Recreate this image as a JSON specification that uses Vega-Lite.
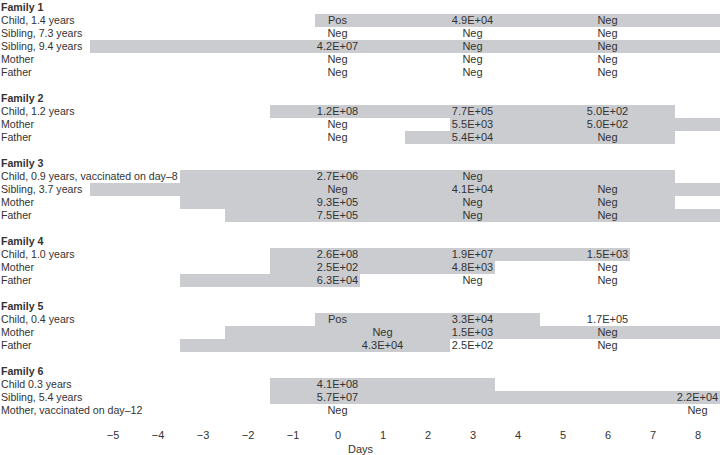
{
  "$schema": "https://vega.github.io/schema/vega-lite/v6.json",
  "width": 720,
  "height": 416,
  "autosize": "none",
  "padding": {"left": 0, "top": 1, "right": 0, "bottom": 38},
  "background": "white",
  "config": {
    "view": {"stroke": null},
    "font": "Liberation Sans",
    "text": {"font": "Liberation Sans", "fontSize": 11, "color": "#333333"}
  },
  "datasets": {
    "rows": [
      {"row": 0, "name": "Family 1", "header": true},
      {"row": 1, "name": "Child, 1.4 years", "header": false},
      {"row": 2, "name": "Sibling, 7.3 years", "header": false},
      {"row": 3, "name": "Sibling, 9.4 years", "header": false},
      {"row": 4, "name": "Mother", "header": false},
      {"row": 5, "name": "Father", "header": false},
      {"row": 7, "name": "Family 2", "header": true},
      {"row": 8, "name": "Child, 1.2 years", "header": false},
      {"row": 9, "name": "Mother", "header": false},
      {"row": 10, "name": "Father", "header": false},
      {"row": 12, "name": "Family 3", "header": true},
      {"row": 13, "name": "Child, 0.9 years, vaccinated on day–8", "header": false},
      {"row": 14, "name": "Sibling, 3.7 years", "header": false},
      {"row": 15, "name": "Mother", "header": false},
      {"row": 16, "name": "Father", "header": false},
      {"row": 18, "name": "Family 4", "header": true},
      {"row": 19, "name": "Child, 1.0 years", "header": false},
      {"row": 20, "name": "Mother", "header": false},
      {"row": 21, "name": "Father", "header": false},
      {"row": 23, "name": "Family 5", "header": true},
      {"row": 24, "name": "Child, 0.4 years", "header": false},
      {"row": 25, "name": "Mother", "header": false},
      {"row": 26, "name": "Father", "header": false},
      {"row": 28, "name": "Family 6", "header": true},
      {"row": 29, "name": "Child 0.3 years", "header": false},
      {"row": 30, "name": "Sibling, 5.4 years", "header": false},
      {"row": 31, "name": "Mother, vaccinated on day–12", "header": false}
    ],
    "bars": [
      {"row": 1, "start": -0.5, "end": 8.5},
      {"row": 3, "start": -5.5, "end": 8.5},
      {"row": 8, "start": -1.5, "end": 7.5},
      {"row": 9, "start": 2.5, "end": 8.5},
      {"row": 10, "start": 1.5, "end": 7.5},
      {"row": 13, "start": -3.5, "end": 7.5},
      {"row": 14, "start": -5.5, "end": 8.5},
      {"row": 15, "start": -3.5, "end": 7.5},
      {"row": 16, "start": -2.5, "end": 8.5},
      {"row": 19, "start": -1.5, "end": 6.5},
      {"row": 20, "start": -1.5, "end": 3.5},
      {"row": 21, "start": -3.5, "end": 0.5},
      {"row": 24, "start": -0.5, "end": 4.5},
      {"row": 25, "start": -2.5, "end": 8.5},
      {"row": 26, "start": -3.5, "end": 2.5},
      {"row": 29, "start": -1.5, "end": 3.5},
      {"row": 30, "start": -1.5, "end": 8.5}
    ],
    "vals": [
      {"row": 1, "day": 0, "value": "Pos"},
      {"row": 1, "day": 3, "value": "4.9E+04"},
      {"row": 1, "day": 6, "value": "Neg"},
      {"row": 2, "day": 0, "value": "Neg"},
      {"row": 2, "day": 3, "value": "Neg"},
      {"row": 2, "day": 6, "value": "Neg"},
      {"row": 3, "day": 0, "value": "4.2E+07"},
      {"row": 3, "day": 3, "value": "Neg"},
      {"row": 3, "day": 6, "value": "Neg"},
      {"row": 4, "day": 0, "value": "Neg"},
      {"row": 4, "day": 3, "value": "Neg"},
      {"row": 4, "day": 6, "value": "Neg"},
      {"row": 5, "day": 0, "value": "Neg"},
      {"row": 5, "day": 3, "value": "Neg"},
      {"row": 5, "day": 6, "value": "Neg"},
      {"row": 8, "day": 0, "value": "1.2E+08"},
      {"row": 8, "day": 3, "value": "7.7E+05"},
      {"row": 8, "day": 6, "value": "5.0E+02"},
      {"row": 9, "day": 0, "value": "Neg"},
      {"row": 9, "day": 3, "value": "5.5E+03"},
      {"row": 9, "day": 6, "value": "5.0E+02"},
      {"row": 10, "day": 0, "value": "Neg"},
      {"row": 10, "day": 3, "value": "5.4E+04"},
      {"row": 10, "day": 6, "value": "Neg"},
      {"row": 13, "day": 0, "value": "2.7E+06"},
      {"row": 13, "day": 3, "value": "Neg"},
      {"row": 14, "day": 0, "value": "Neg"},
      {"row": 14, "day": 3, "value": "4.1E+04"},
      {"row": 14, "day": 6, "value": "Neg"},
      {"row": 15, "day": 0, "value": "9.3E+05"},
      {"row": 15, "day": 3, "value": "Neg"},
      {"row": 15, "day": 6, "value": "Neg"},
      {"row": 16, "day": 0, "value": "7.5E+05"},
      {"row": 16, "day": 3, "value": "Neg"},
      {"row": 16, "day": 6, "value": "Neg"},
      {"row": 19, "day": 0, "value": "2.6E+08"},
      {"row": 19, "day": 3, "value": "1.9E+07"},
      {"row": 19, "day": 6, "value": "1.5E+03"},
      {"row": 20, "day": 0, "value": "2.5E+02"},
      {"row": 20, "day": 3, "value": "4.8E+03"},
      {"row": 20, "day": 6, "value": "Neg"},
      {"row": 21, "day": 0, "value": "6.3E+04"},
      {"row": 21, "day": 3, "value": "Neg"},
      {"row": 21, "day": 6, "value": "Neg"},
      {"row": 24, "day": 0, "value": "Pos"},
      {"row": 24, "day": 3, "value": "3.3E+04"},
      {"row": 24, "day": 6, "value": "1.7E+05"},
      {"row": 25, "day": 1, "value": "Neg"},
      {"row": 25, "day": 3, "value": "1.5E+03"},
      {"row": 25, "day": 6, "value": "Neg"},
      {"row": 26, "day": 1, "value": "4.3E+04"},
      {"row": 26, "day": 3, "value": "2.5E+02"},
      {"row": 26, "day": 6, "value": "Neg"},
      {"row": 29, "day": 0, "value": "4.1E+08"},
      {"row": 30, "day": 0, "value": "5.7E+07"},
      {"row": 30, "day": 8, "value": "2.2E+04"},
      {"row": 31, "day": 0, "value": "Neg"},
      {"row": 31, "day": 8, "value": "Neg"}
    ]
  },
  "layer": [
    {
      "data": {"name": "bars"},
      "mark": {"type": "bar", "color": "#cbcccf", "cornerRadius": 0},
      "encoding": {
        "x": {
          "field": "start", "type": "quantitative",
          "scale": {"domain": [-7.5, 8.5], "nice": false, "zero": false},
          "axis": {
            "values": [-5, -4, -3, -2, -1, 0, 1, 2, 3, 4, 5, 6, 7, 8],
            "labelExpr": "replace(datum.label, '-', '–')",
            "domain": false, "ticks": false, "grid": false,
            "labelFont": "Liberation Sans", "labelFontSize": 11, "labelColor": "#333333",
            "labelPadding": 12,
            "title": "Days", "titleFont": "Liberation Sans", "titleFontSize": 11,
            "titleFontWeight": "normal", "titleColor": "#333333", "titlePadding": 3
          }
        },
        "x2": {"field": "end"},
        "y": {
          "field": "row", "type": "ordinal",
          "scale": {"domain": [0,1,2,3,4,5,6,7,8,9,10,11,12,13,14,15,16,17,18,19,20,21,22,23,24,25,26,27,28,29,30,31], "paddingInner": 0, "paddingOuter": 0},
          "axis": null
        }
      }
    },
    {
      "data": {"name": "vals"},
      "mark": {"type": "text", "align": "center", "baseline": "middle"},
      "encoding": {
        "x": {"field": "day", "type": "quantitative"},
        "y": {"field": "row", "type": "ordinal"},
        "text": {"field": "value"}
      }
    },
    {
      "data": {"name": "rows"},
      "transform": [{"filter": "!datum.header"}],
      "mark": {"type": "text", "align": "left", "baseline": "middle", "dx": 1, "fontSize": 10.6},
      "encoding": {
        "x": {"datum": -7.5},
        "y": {"field": "row", "type": "ordinal"},
        "text": {"field": "name"}
      }
    },
    {
      "data": {"name": "rows"},
      "transform": [{"filter": "datum.header"}],
      "mark": {"type": "text", "align": "left", "baseline": "middle", "dx": 1, "fontSize": 10.6, "fontWeight": "bold"},
      "encoding": {
        "x": {"datum": -7.5},
        "y": {"field": "row", "type": "ordinal"},
        "text": {"field": "name"}
      }
    }
  ]
}
